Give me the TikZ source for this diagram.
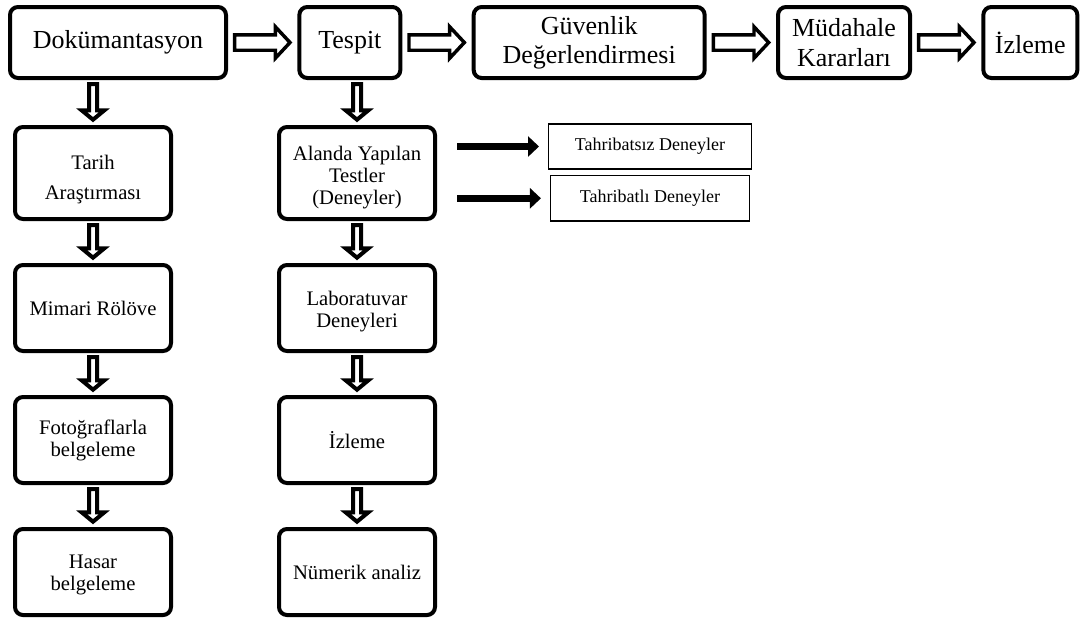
\documentclass[tikz,border=0pt]{standalone}
\usepackage{fontspec}
\setmainfont{Liberation Serif}
\usepackage{tikz}
\usetikzlibrary{arrows.meta, positioning, calc}
\tikzset{
    baseblock/.style={rectangle, draw=black, line width=3pt, rounded corners=6pt, align=center, inner sep=2pt},
    headblock/.style={baseblock, font=\fontsize{19.5}{22}\selectfont, minimum height=53.25pt},
    stepblock/.style={baseblock, font=\fontsize{15.5}{16.5}\selectfont, minimum width=117pt, minimum height=64.5pt},
    testbox/.style={rectangle, draw=black, line width=1.1pt, align=center, font=\fontsize{13.5}{16}\selectfont, minimum height=34pt},
    hollowarrow/.style={draw=black, line width=2.6pt, fill=white, line join=miter},
    solidarrow/.style={line width=5.25pt, -{Triangle[length=8.25pt, width=15pt]}, color=black}
}
% hollow block arrows, from node to node
\newcommand{\hollowright}[2]{%
    \draw[hollowarrow] let \p1=#1, \p2=#2 in
        (\x1+5pt,\y1+5.8pt) -- (\x2-16.5pt,\y1+5.8pt) -- (\x2-16.5pt,\y1+11.8pt) -- (\x2-5.5pt,\y1)
        -- (\x2-16.5pt,\y1-11.8pt) -- (\x2-16.5pt,\y1-5.8pt) -- (\x1+5pt,\y1-5.8pt) -- cycle;}
\newcommand{\hollowdown}[2]{%
    \draw[hollowarrow, line width=3pt] let \p1=#1, \p2=#2 in
        (\x1-3pt,\y1-3pt) -- (\x1-3pt,\y2+11pt) -- (\x1-8.5pt,\y2+11pt) -- (\x1,\y2+4pt)
        -- (\x1+8.5pt,\y2+11pt) -- (\x1+3pt,\y2+11pt) -- (\x1+3pt,\y1-3pt) -- cycle;}

\begin{document}
\begin{tikzpicture}[x=0.75pt, y=-0.75pt, node distance=52pt]
    \useasboundingbox (0,0) rectangle (1084,619);

    % top row
    \node (dok) [headblock, minimum width=162pt] at (118,42.5) {Dokümantasyon};
    \node (tespit) [headblock, right=of dok, minimum width=75.75pt] {Tespit};
    \node (guvenlik) [headblock, right=of tespit, minimum width=173.25pt] {Güvenlik\\Değerlendirmesi};
    \node (mudahale) [headblock, right=of guvenlik, minimum width=99pt] {Müdahale\\Kararları};
    \node (izleme) [headblock, right=of mudahale, minimum width=70.5pt] {İzleme};

    % documentation column
    \node (tarih) [stepblock, minimum height=69pt] at (93,173) {\rule{0pt}{20pt}Tarih\\[6pt]Araştırması};
    \node (rolove) [stepblock, below=31.5pt of tarih] {Mimari Rölöve};
    \node (foto) [stepblock, below=31.5pt of rolove] {Fotoğraflarla\\belgeleme};
    \node (hasar) [stepblock, below=31.5pt of foto] {\rule{0pt}{15pt}Hasar\\belgeleme};

    % detection column
    \node (alanda) [stepblock, minimum height=69pt] at (357,173) {\rule{0pt}{18pt}Alanda Yapılan\\Testler\\(Deneyler)};
    \node (lab) [stepblock, below=31.5pt of alanda] {\rule{0pt}{16pt}Laboratuvar\\Deneyleri};
    \node (izlemealt) [stepblock, below=31.5pt of lab] {İzleme};
    \node (numerik) [stepblock, below=31.5pt of izlemealt] {Nümerik analiz};

    % test types
    \node (tahsiz) [testbox, minimum width=151.9pt] at (650,146.5) {Tahribatsız Deneyler};
    \node (tahli) [testbox, below=3.75pt of tahsiz, minimum width=149pt] {Tahribatlı Deneyler};

    \hollowright{(dok.east)}{(tespit.west)}
    \hollowright{(tespit.east)}{(guvenlik.west)}
    \hollowright{(guvenlik.east)}{(mudahale.west)}
    \hollowright{(mudahale.east)}{(izleme.west)}

    \hollowdown{(tarih.north |- dok.south)}{(tarih.north)}
    \hollowdown{(rolove.north |- tarih.south)}{(rolove.north)}
    \hollowdown{(foto.north |- rolove.south)}{(foto.north)}
    \hollowdown{(hasar.north |- foto.south)}{(hasar.north)}

    \hollowdown{(alanda.north |- tespit.south)}{(alanda.north)}
    \hollowdown{(lab.north |- alanda.south)}{(lab.north)}
    \hollowdown{(izlemealt.north |- lab.south)}{(izlemealt.north)}
    \hollowdown{(numerik.north |- izlemealt.south)}{(numerik.north)}

    \draw [solidarrow, shorten <=15pt, shorten >=6.75pt] (alanda.east |- tahsiz.west) -- (tahsiz.west);
    \draw [solidarrow, shorten <=15pt, shorten >=6.75pt] (alanda.east |- tahli.west) -- (tahli.west);
\end{tikzpicture}
\end{document}
